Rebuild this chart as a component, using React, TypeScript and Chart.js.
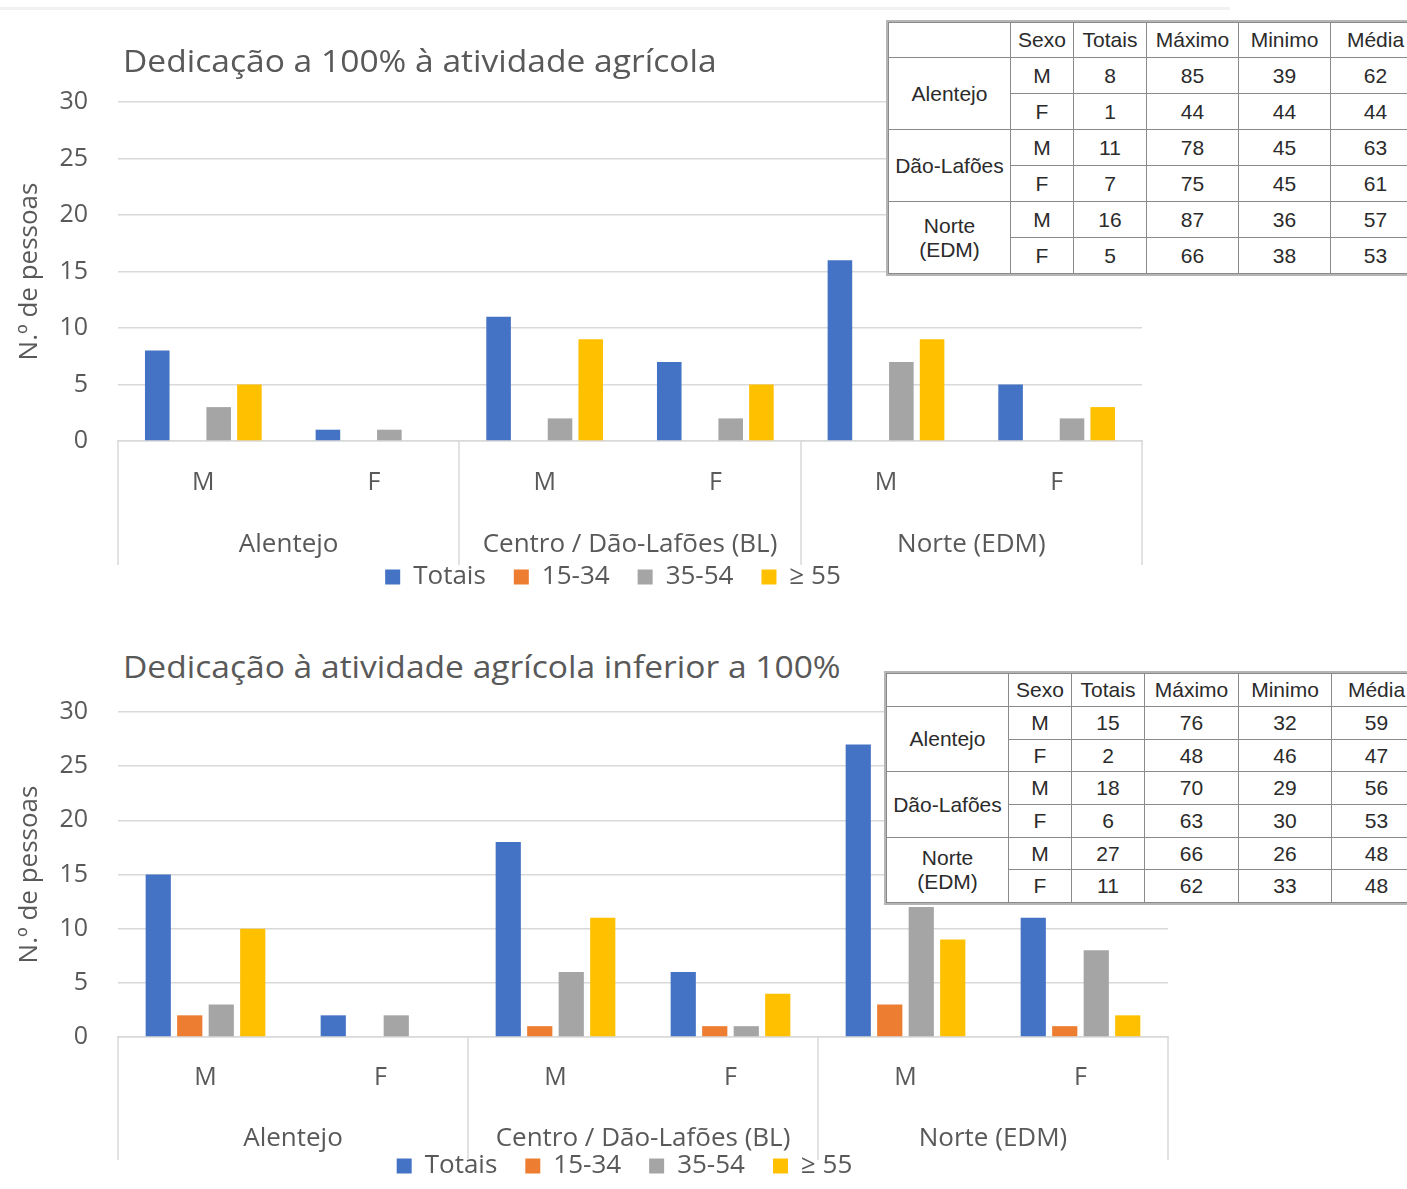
import React, { useEffect, useRef } from 'react';
import { Chart, registerables } from 'chart.js';

Chart.register(...registerables);

const FONT = "'Open Sans', 'DejaVu Sans', sans-serif";
const TABLE_FONT = "'Liberation Sans Narrow', 'Arial Narrow', 'Liberation Sans', Arial, sans-serif";
const TEXT = '#595959';
const GRID = '#d9d9d9';

// ---- chart data ----
const categories = ['M', 'F', 'M', 'F', 'M', 'F'];
const regions = ['Alentejo', 'Centro / Dão-Lafões (BL)', 'Norte (EDM)'];
const seriesNames = ['Totais', '15-34', '35-54', '≥ 55'];
const seriesColors = ['#4472C4', '#ED7D31', '#A5A5A5', '#FFC000'];
const groupBoundaries = [-0.5, 1.5, 3.5, 5.5];
const yTickMin = 0;
const yTickMax = 30;
const yTickStep = 5;

const topTitle = 'Dedicação a 100% à atividade agrícola';
const topTotais = [8, 1, 11, 7, 16, 5];
const top1534 = [0, 0, 0, 0, 0, 0];
const top3554 = [3, 1, 2, 2, 7, 2];
const top55 = [5, 0, 9, 5, 9, 3];

const bottomTitle = 'Dedicação à atividade agrícola inferior a 100%';
const botTotais = [15, 2, 18, 6, 27, 11];
const bot1534 = [2, 0, 1, 1, 3, 1];
const bot3554 = [3, 2, 6, 1, 12, 8];
const bot55 = [10, 0, 11, 4, 9, 2];

// ---- table data ----
const tableHeader = ['', 'Sexo', 'Totais', 'Máximo', 'Minimo', 'Média'];
const tableRegions = [['Alentejo'], ['Dão-Lafões'], ['Norte', '(EDM)']];
const topTableRows: (string | number)[][] = [
  ['M', 8, 85, 39, 62],
  ['F', 1, 44, 44, 44],
  ['M', 11, 78, 45, 63],
  ['F', 7, 75, 45, 61],
  ['M', 16, 87, 36, 57],
  ['F', 5, 66, 38, 53],
];
const botTableRows: (string | number)[][] = [
  ['M', 15, 76, 32, 59],
  ['F', 2, 48, 46, 47],
  ['M', 18, 70, 29, 56],
  ['F', 6, 63, 30, 53],
  ['M', 27, 66, 26, 48],
  ['F', 11, 62, 33, 48],
];

type BarChartProps = {
  left: number;
  top: number;
  width: number;
  height: number;
  rightSpacer: number;
  xPad: number;
  x2Pad: number;
  x2Height: number;
  sepExtent: number;
  series: number[][];
};

function BarChart(p: BarChartProps) {
  const ref = useRef<HTMLCanvasElement>(null);
  useEffect(() => {
    if (!ref.current) return;
    const separators = {
      id: 'groupSeparators',
      afterDraw(chart: any) {
        const xs = chart.scales.x;
        const x2 = chart.scales.x2;
        const ctx = chart.ctx;
        ctx.save();
        ctx.strokeStyle = GRID;
        ctx.lineWidth = 1.5;
        for (const b of groupBoundaries) {
          const px = Math.round(xs.getPixelForValue(b));
          ctx.beginPath();
          ctx.moveTo(px, chart.chartArea.bottom);
          ctx.lineTo(px, x2.top + p.sepExtent);
          ctx.stroke();
        }
        ctx.restore();
      },
    };
    const chart = new Chart(ref.current, {
      type: 'bar',
      data: {
        labels: categories,
        datasets: seriesNames.map((name, i) => ({
          label: name,
          data: p.series[i],
          backgroundColor: seriesColors[i],
          borderWidth: 0,
          categoryPercentage: 0.72,
          barPercentage: 0.8,
        })),
      },
      options: {
        responsive: false,
        animation: false,
        layout: { padding: { left: 0, top: 22, right: 0, bottom: 0 } },
        plugins: {
          legend: {
            position: 'bottom',
            labels: {
              boxWidth: 15,
              boxHeight: 15,
              padding: 28,
              color: TEXT,
              font: { family: FONT, size: 26 },
            },
          },
          tooltip: { enabled: false },
          title: { display: false },
        },
        scales: {
          x: {
            type: 'category',
            position: 'bottom',
            weight: 0,
            grid: { display: false, drawTicks: false },
            border: { display: true, color: GRID, width: 1.5 },
            ticks: {
              color: TEXT,
              font: { family: FONT, size: 25 },
              padding: p.xPad,
              maxRotation: 0,
              autoSkip: false,
            },
            afterFit: (s: any) => {
              s.height = 60;
            },
          },
          x2: {
            type: 'category',
            position: 'bottom',
            weight: 1,
            labels: regions,
            offset: true,
            grid: { display: false, drawTicks: false },
            border: { display: false },
            ticks: {
              color: TEXT,
              font: { family: FONT, size: 26 },
              padding: p.x2Pad,
              mirror: true,
              maxRotation: 0,
              autoSkip: false,
            },
            afterFit: (s: any) => {
              s.height = p.x2Height;
            },
          },
          y: {
            position: 'left',
            min: yTickMin,
            max: yTickMax,
            ticks: {
              stepSize: yTickStep,
              color: TEXT,
              font: { family: FONT, size: 25 },
              padding: 0,
            },
            grid: {
              color: GRID,
              lineWidth: 1.5,
              drawTicks: true,
              tickLength: 30,
              tickColor: 'rgba(0,0,0,0)',
            },
            border: { display: false },
            title: {
              display: true,
              text: 'N.º de pessoas',
              color: TEXT,
              font: { family: FONT, size: 26 },
              padding: { top: 14.4, bottom: 0 },
            },
            afterFit: (s: any) => {
              s.width = 118;
            },
          },
          ySpacer: {
            type: 'linear',
            position: 'right',
            display: true,
            grid: { display: false, drawTicks: false },
            border: { display: false },
            ticks: { display: false },
            afterFit: (s: any) => {
              s.width = p.rightSpacer;
            },
          },
        },
      } as any,
      plugins: [separators],
    });
    return () => chart.destroy();
  }, []);
  return (
    <canvas
      ref={ref}
      width={p.width}
      height={p.height}
      style={{ position: 'absolute', left: p.left, top: p.top, width: p.width, height: p.height }}
    />
  );
}

type TableProps = {
  left: number;
  top: number;
  colWidths: number[];
  headerHeight: number;
  rowHeight: number;
  rows: (string | number)[][];
};

function StatsTable(t: TableProps) {
  const inner = '1.5px solid #8a8a8a';
  const cell: React.CSSProperties = {
    border: inner,
    padding: 0,
    textAlign: 'center',
    verticalAlign: 'middle',
    fontFamily: TABLE_FONT,
    fontSize: 21,
    color: '#2b2b2b',
    lineHeight: '24px',
    overflow: 'hidden',
    whiteSpace: 'nowrap',
  };
  const total = t.colWidths.reduce((a, b) => a + b, 0);
  return (
    <table
      style={{
        position: 'absolute',
        left: t.left,
        top: t.top,
        width: total,
        borderCollapse: 'collapse',
        tableLayout: 'fixed',
        background: '#fff',
        outline: '2px solid #b5b5b5',
      }}
    >
      <colgroup>
        {t.colWidths.map((w, i) => (
          <col key={i} style={{ width: w }} />
        ))}
      </colgroup>
      <tbody>
        <tr style={{ height: t.headerHeight }}>
          {tableHeader.map((h, i) => (
            <td key={i} style={cell}>
              {h}
            </td>
          ))}
        </tr>
        {t.rows.map((r, ri) => (
          <tr key={ri} style={{ height: t.rowHeight }}>
            {ri % 2 === 0 ? (
              <td rowSpan={2} style={cell}>
                {tableRegions[ri / 2].map((line, li) => (
                  <div key={li}>{line}</div>
                ))}
              </td>
            ) : null}
            {r.map((v, ci) => (
              <td key={ci} style={cell}>
                {v}
              </td>
            ))}
          </tr>
        ))}
      </tbody>
    </table>
  );
}

const titleStyle: React.CSSProperties = {
  position: 'absolute',
  left: 123,
  fontFamily: FONT,
  fontSize: 31,
  lineHeight: '40px',
  color: TEXT,
  whiteSpace: 'nowrap',
  transform: 'scaleX(1.083)',
  transformOrigin: 'left center',
};

export default function App() {
  return (
    <div
      style={{
        position: 'absolute',
        left: 0,
        top: 0,
        width: 1407,
        height: 1189,
        overflow: 'hidden',
        background: '#fff',
      }}
    >
      <div style={{ position: 'absolute', left: 0, top: 7, width: 1230, height: 3, background: '#f1f1f1' }} />
      <BarChart
        left={0}
        top={80}
        width={1226}
        height={520}
        rightSpacer={84}
        xPad={27}
        x2Pad={-59.6}
        x2Height={35}
        sepExtent={64}
        series={[topTotais, top1534, top3554, top55]}
      />
      <div style={{ ...titleStyle, top: 40 }}>{topTitle}</div>
      <StatsTable left={888} top={22} colWidths={[122, 63, 73, 92, 92, 90]} headerHeight={35} rowHeight={36} rows={topTableRows} />

      <BarChart
        left={0}
        top={690}
        width={1249}
        height={499}
        rightSpacer={81}
        xPad={26}
        x2Pad={-57.6}
        x2Height={28}
        sepExtent={63}
        series={[botTotais, bot1534, bot3554, bot55]}
      />
      <div style={{ ...titleStyle, top: 646 }}>{bottomTitle}</div>
      <StatsTable left={886} top={673} colWidths={[122, 63, 73, 94, 93, 90]} headerHeight={33} rowHeight={32.7} rows={botTableRows} />
    </div>
  );
}
